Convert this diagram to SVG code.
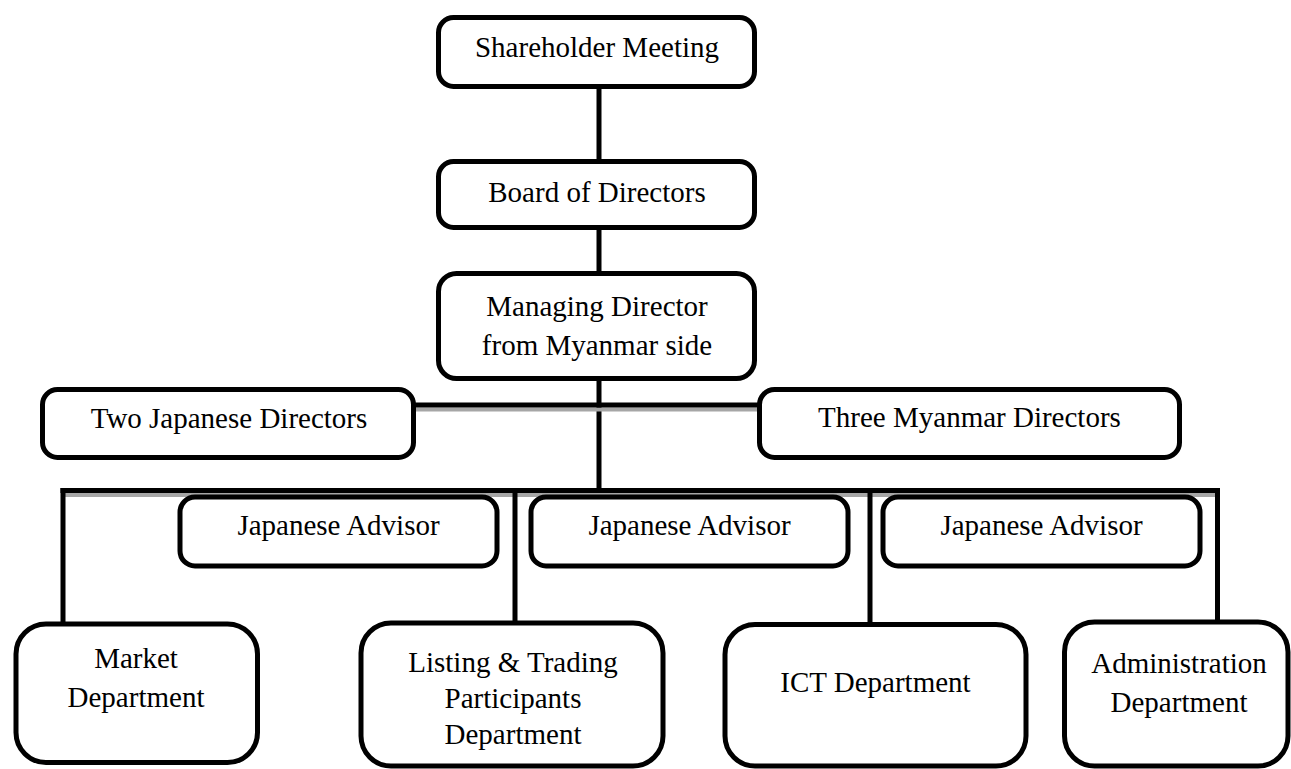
<svg xmlns="http://www.w3.org/2000/svg" width="1291" height="769" viewBox="0 0 1291 769">
  <style>
    .box { fill: #ffffff; stroke: #000000; stroke-width: 5; }
    .wire { stroke: #000000; stroke-width: 5; fill: none; }
    .shade { fill: #a6a6a6; }
    text { font-family: "Liberation Serif", "Times New Roman", serif; font-size: 29px; fill: #000000; text-anchor: middle; }
  </style>
  <rect width="1291" height="769" fill="#ffffff"/>

  <!-- connectors -->
  <g id="connectors">
    <!-- spine from the top -->
    <line class="wire" x1="599" y1="88" x2="599" y2="161"/>
    <line class="wire" x1="599" y1="229" x2="599" y2="273"/>
    <line class="wire" x1="599" y1="380" x2="599" y2="491"/>
    <!-- director branch -->
    <rect class="shade" x="416" y="407.5" width="342" height="4"/>
    <line class="wire" x1="414" y1="405" x2="760" y2="405"/>
    <!-- department bus -->
    <rect class="shade" x="63" y="493" width="1155" height="4"/>
    <line class="wire" x1="60.5" y1="490.5" x2="1220" y2="490.5"/>
    <line class="wire" x1="63" y1="488" x2="63" y2="625"/>
    <line class="wire" x1="515" y1="488" x2="515" y2="624"/>
    <line class="wire" x1="870" y1="488" x2="870" y2="625"/>
    <line class="wire" x1="1217.5" y1="488" x2="1217.5" y2="622"/>
  </g>

  <g id="shareholder-meeting">
    <rect class="box" x="438.5" y="17.5" width="316" height="69" rx="15"/>
    <text x="597" y="57">Shareholder Meeting</text>
  </g>

  <g id="board-of-directors">
    <rect class="box" x="438.5" y="161.5" width="316" height="66" rx="15"/>
    <text x="597" y="202">Board of Directors</text>
  </g>

  <g id="managing-director">
    <rect class="box" x="438.5" y="273.5" width="316" height="105" rx="18"/>
    <text x="597" y="316">Managing Director</text>
    <text x="597" y="355">from Myanmar side</text>
  </g>

  <g id="two-japanese-directors">
    <rect class="box" x="42.5" y="389.5" width="371" height="68" rx="15"/>
    <text x="229" y="428">Two Japanese Directors</text>
  </g>

  <g id="three-myanmar-directors">
    <rect class="box" x="759.5" y="389.5" width="420" height="68" rx="15"/>
    <text x="969.5" y="427">Three Myanmar Directors</text>
  </g>

  <g id="japanese-advisor-1">
    <rect class="box" x="180" y="497" width="317" height="69" rx="15"/>
    <text x="338.5" y="535">Japanese Advisor</text>
  </g>

  <g id="japanese-advisor-2">
    <rect class="box" x="531" y="497" width="317" height="69" rx="15"/>
    <text x="689.5" y="535">Japanese Advisor</text>
  </g>

  <g id="japanese-advisor-3">
    <rect class="box" x="883" y="497" width="317" height="69" rx="15"/>
    <text x="1041.5" y="535">Japanese Advisor</text>
  </g>

  <g id="market-department">
    <rect class="box" x="16" y="624" width="241.5" height="138.5" rx="30"/>
    <text x="136" y="668">Market</text>
    <text x="136" y="707">Department</text>
  </g>

  <g id="listing-trading-department">
    <rect class="box" x="361" y="623" width="302" height="143" rx="30"/>
    <text x="513" y="672">Listing &amp; Trading</text>
    <text x="513" y="708">Participants</text>
    <text x="513" y="744">Department</text>
  </g>

  <g id="ict-department">
    <rect class="box" x="725" y="624.5" width="301" height="141.5" rx="30"/>
    <text x="875.5" y="692">ICT Department</text>
  </g>

  <g id="administration-department">
    <rect class="box" x="1064.5" y="622" width="223.5" height="144" rx="30"/>
    <text x="1179" y="673">Administration</text>
    <text x="1179" y="712">Department</text>
  </g>
</svg>
